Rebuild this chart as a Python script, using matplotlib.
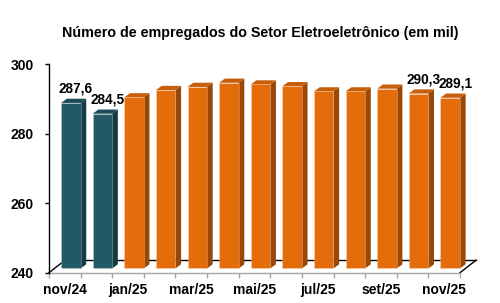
import matplotlib
matplotlib.use("Agg")
import matplotlib.pyplot as plt
import numpy as np

categories = ["nov/24", "dez/24", "jan/25", "fev/25", "mar/25", "abr/25", "mai/25",
              "jun/25", "jul/25", "ago/25", "set/25", "out/25", "nov/25"]
values = [287.6, 284.5, 289.2, 291.3, 292.2, 293.4, 292.9, 292.4, 290.9, 290.9, 291.7, 290.3, 289.1]
group = ["prev", "prev"] + ["cur"] * 11
label_idx = [0, 1, 11, 12]
yticks = [240, 260, 280, 300]
title = "Número de empregados do Setor Eletroeletrônico (em mil)"

plt.rcParams['font.family'] = ['Liberation Sans', 'DejaVu Sans']
plt.rcParams['font.weight'] = 'bold'

W, H = 500, 303
fig = plt.figure(figsize=(W / 100, H / 100), dpi=100)
L, R = 49, 460
T, B = 64, 272.7
ax = fig.add_axes([L / W, (H - B) / H, (R - L) / W, (B - T) / H])
n = len(categories)
ymin, ymax = 240, 300
ax.set_xlim(-0.5, n - 0.5)
ax.set_ylim(ymin, ymax)

sx = (R - L) / n
sy = (B - T) / (ymax - ymin)
def px(dxp, dyp):
    return dxp / sx, dyp / sy

fdx, fdy = px(16, 12.5)   # floor depth
bsx, bsy = px(6, 4.2)     # bar front shift
bdx, bdy = px(5.7, 4.2)   # bar depth
w = 0.615

colors = {
    "prev": ("#215967", "#1b4c58", "#143a44"),
    "cur": ("#e46c0a", "#c85d0a", "#984807"),
}

# floor
ax.plot([-0.5 + fdx, n - 0.5 + fdx], [ymin + fdy, ymin + fdy], color="black", lw=1, clip_on=False, zorder=1)
ax.plot([-0.5, -0.5 + fdx], [ymin, ymin + fdy], color="black", lw=1, clip_on=False, zorder=1)
ax.plot([n - 0.5, n - 0.5 + fdx], [ymin, ymin + fdy], color="black", lw=1, clip_on=False, zorder=1)

x = np.arange(n)
for i, (xi, v, g) in enumerate(zip(x, values, group)):
    front, top, side = colors[g]
    cx = xi + bsx
    b0 = ymin + bsy
    t0 = v + bsy
    ax.fill([cx + w / 2, cx + w / 2, cx + w / 2 + bdx, cx + w / 2 + bdx],
            [b0, t0, t0 + bdy, b0 + bdy], color=side, lw=0, clip_on=False, zorder=3)
    ax.fill([cx - w / 2, cx + w / 2, cx + w / 2 + bdx, cx - w / 2 + bdx],
            [t0, t0, t0 + bdy, t0 + bdy], color=top, lw=0, clip_on=False, zorder=3)
    ax.bar(cx, t0 - b0, bottom=b0, width=w, color=front, lw=0.5, edgecolor=(1, 1, 1, 0.3),
           clip_on=False, zorder=4)
    if i in label_idx:
        ax.annotate(f"{v:.1f}".replace(".", ","), xy=(cx + bdx / 2, t0 + bdy),
                    xytext=(1.5, 2), textcoords="offset points", ha="center", va="bottom",
                    fontsize=9.8, fontweight="bold", color="black", zorder=6)

for s in ["top", "right"]:
    ax.spines[s].set_visible(False)
ax.spines["left"].set_color("black")
ax.spines["left"].set_linewidth(1)
ax.spines["bottom"].set_color("#a6a6a6")
ax.spines["bottom"].set_linewidth(1)
ax.spines["bottom"].set_zorder(2)

ax.set_yticks(yticks)
ax.set_yticklabels([str(t) for t in yticks], fontsize=10, fontweight="bold")
ax.tick_params(axis="y", length=3, width=1, color="black", pad=8)

ax.set_xticks(np.arange(-0.5, n, 1.0))
ax.set_xticklabels([])
ax.tick_params(axis="x", which="major", length=3.5, width=1, color="#a6a6a6")
ax.set_xticks(x[::2], minor=True)
ax.set_xticklabels(categories[::2], minor=True, fontsize=10, fontweight="bold")
ax.tick_params(axis="x", which="minor", length=0, pad=7.5)

fig.text(0.52, 1 - 33 / H, title, ha="center", va="center", fontsize=10.3, fontweight="bold")

fig.savefig("out.png", dpi=100)
